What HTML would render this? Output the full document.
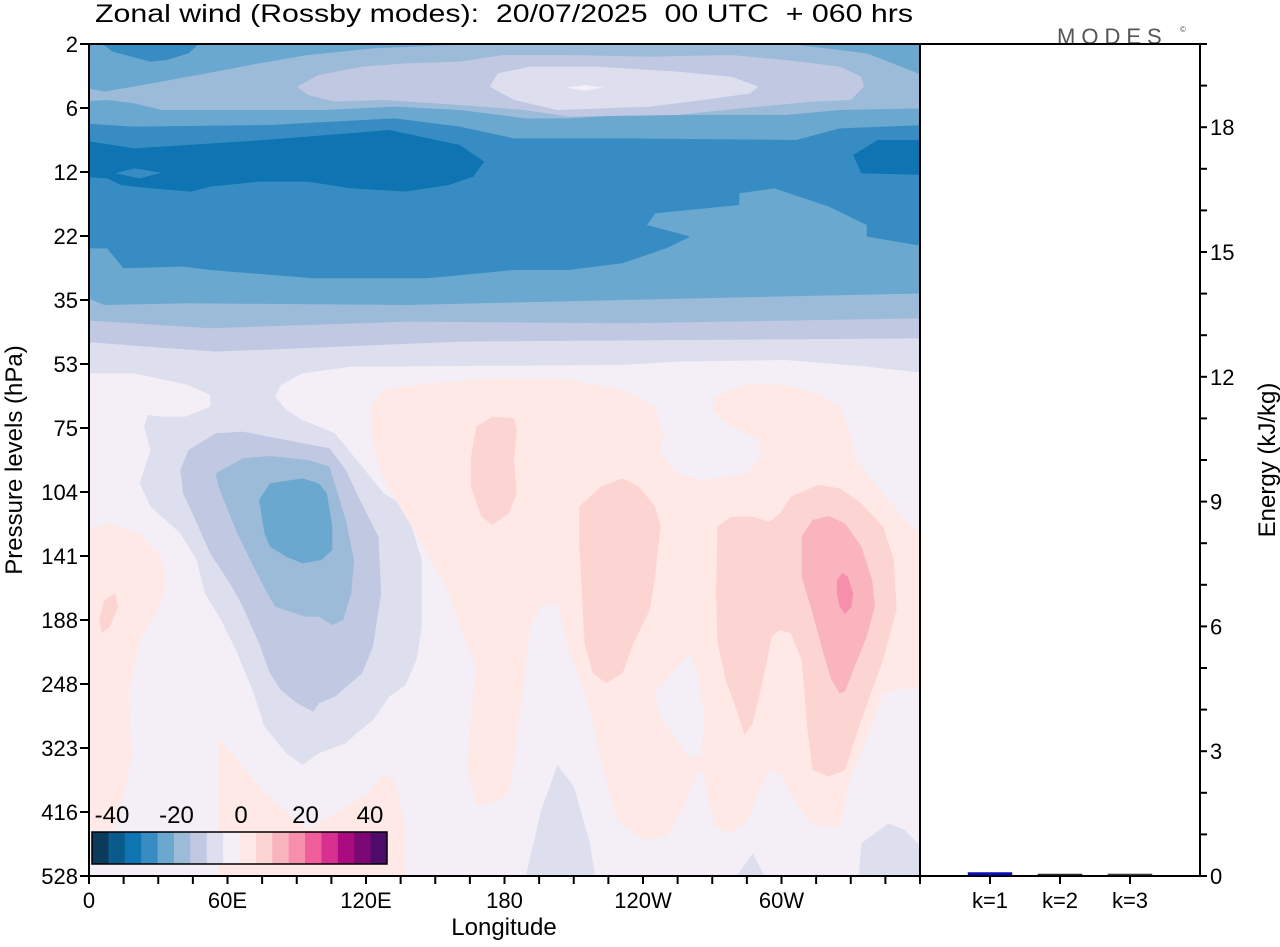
<!DOCTYPE html>
<html><head><meta charset="utf-8"><style>
body{margin:0;background:#fff;width:1280px;height:942px;overflow:hidden;font-family:"Liberation Sans",sans-serif}
svg text{font-family:"Liberation Sans",sans-serif}
</style></head><body>
<svg id="chart" width="1280" height="942" viewBox="0 0 1280 942" xmlns="http://www.w3.org/2000/svg">
<text x="95" y="22" font-size="25" style="white-space:pre" textLength="818" lengthAdjust="spacingAndGlyphs">Zonal wind (Rossby modes):  20/07/2025  00 UTC  + 060 hrs</text>
<text x="1057" y="44" font-size="22" fill="#555" letter-spacing="6">MODES</text>
<text x="1180" y="32" font-size="8" fill="#555">©</text>
<defs><clipPath id="pc"><rect x="89" y="44" width="831" height="832"/></clipPath></defs>
<g id="contours" clip-path="url(#pc)">
<rect x="89" y="44" width="831" height="832" fill="#f4eef6"/>
<g transform="translate(80,40) scale(0.5426,0.3333)">
<rect x="0" y="0" width="1560" height="1000" fill="#6aa8cf"/>
<polygon fill="#378dc3" points="40,10 60,35 130,65 160,60 200,40 220,10"/>
<polygon fill="#9bbbd9" points="0,140 45,155 150,125 250,95 330,70 420,45 540,25 760,10 1300,10 1450,40 1560,110 1560,205 1400,210 1300,225 1000,225 900,235 820,235 700,210 580,200 450,210 300,210 150,210 100,190 50,180 0,185"/>
<polygon fill="#c1c8e2" points="400,140 440,105 520,80 600,70 700,65 780,45 900,45 1050,50 1200,45 1300,60 1400,80 1440,110 1445,140 1420,180 1350,185 1250,200 1100,225 900,230 820,210 700,195 560,180 470,185 420,165"/>
<polygon fill="#dedfee" points="755,140 770,100 830,80 950,80 1100,95 1200,110 1250,140 1235,160 1150,180 1050,200 880,210 800,180"/>
<polygon fill="#f4eef6" points="895,143 930,135 965,143 930,152"/>
<polygon fill="#378dc3" points="0,250 100,260 350,255 580,235 700,260 800,295 1000,295 1320,300 1400,265 1560,255 1560,620 1450,590 1450,555 1380,500 1280,445 1215,460 1215,495 1060,520 1045,555 1125,590 1080,625 1000,670 900,690 800,690 640,715 430,715 240,690 190,680 80,685 50,625 0,625"/>
<polygon fill="#0f74b2" points="0,300 100,325 340,300 570,270 700,315 745,365 725,410 680,435 600,455 500,445 420,425 330,425 240,440 205,455 130,445 75,435 50,415 0,410"/>
<polygon fill="#378dc3" points="65,400 100,385 150,398 110,415"/>
<polygon fill="#0f74b2" points="1560,300 1470,300 1425,345 1440,400 1560,405"/>
<polygon fill="#9bbbd9" points="0,765 45,795 200,790 600,795 1000,780 1560,760 1560,1020 0,1020"/>
<polygon fill="#c1c8e2" points="0,840 50,845 240,865 600,845 1000,850 1560,835 1560,1020 0,1020"/>
<polygon fill="#dedfee" points="0,905 250,935 700,905 1560,895 1560,1020 0,1020"/>
</g>
<g transform="translate(80,360) scale(0.5426,0.3333)">
<rect x="0" y="0" width="1560" height="1560" fill="#f4eef6"/>
<polygon fill="#dedfee" points="0,-5 0,40 100,40 200,75 240,105 240,140 195,170 150,170 125,165 118,200 130,270 110,370 130,440 185,520 215,600 230,700 260,780 290,880 320,1000 340,1100 380,1180 410,1215 440,1180 490,1150 510,1120 540,1080 570,1010 600,975 620,900 630,800 630,600 600,440 560,400 520,320 470,220 410,180 380,150 360,110 370,75 410,40 500,20 1000,15 1100,5 1300,0 1450,20 1560,40 1560,-5"/>
<polygon fill="#dedfee" points="820,1560 850,1350 880,1215 910,1280 940,1450 950,1560"/>
<polygon fill="#dedfee" points="1435,1560 1440,1450 1490,1390 1520,1410 1560,1480 1560,1560"/>
<polygon fill="#dedfee" points="1205,1560 1240,1480 1265,1560"/>
<polygon fill="#c1c8e2" points="185,330 200,270 250,220 300,215 380,240 460,265 490,330 510,400 550,530 555,700 540,860 520,940 470,1010 440,1030 430,1055 400,1030 370,990 350,940 330,850 300,740 280,680 240,580 210,470 190,400"/>
<polygon fill="#9bbbd9" points="250,340 300,295 350,288 420,300 460,320 475,400 490,480 505,600 500,700 485,780 465,795 440,770 415,770 360,740 345,700 320,620 290,520 265,420 255,380"/>
<polygon fill="#6aa8cf" points="330,420 350,370 410,355 440,370 455,400 465,500 465,570 445,600 410,610 380,590 350,560 340,520"/>
<polygon fill="#fee9e6" points="535,140 560,90 640,70 760,55 900,60 1000,90 1060,140 1075,220 1070,280 1100,340 1150,360 1230,340 1255,290 1250,240 1200,200 1165,150 1170,110 1230,70 1300,75 1360,100 1400,140 1420,220 1430,300 1480,400 1530,500 1560,530 1560,990 1520,985 1480,1000 1460,1100 1420,1250 1400,1400 1350,1395 1320,1330 1290,1240 1270,1230 1250,1300 1230,1380 1200,1420 1170,1400 1150,1250 1140,1230 1110,1350 1080,1430 1040,1440 990,1380 960,1200 940,1050 920,950 900,870 880,730 850,735 830,800 800,1200 790,1300 760,1330 730,1335 715,1230 720,1080 730,920 700,800 680,700 640,580 600,470 560,360 540,260"/>
<polygon fill="#f4eef6" points="1060,1000 1100,920 1125,880 1140,950 1150,1060 1145,1190 1120,1190 1090,1120 1070,1070"/>
<polygon fill="#fee9e6" points="0,520 50,490 110,520 150,590 160,680 140,760 110,840 90,1000 95,1200 80,1300 60,1410 20,1410 0,1300"/>
<polygon fill="#fee9e6" points="255,1135 280,1180 340,1300 420,1410 530,1300 560,1240 580,1260 600,1400 600,1560 255,1560"/>
<polygon fill="#fcd5d3" points="35,780 45,720 65,700 70,740 55,800 40,820"/>
<polygon fill="#fcd5d3" points="730,200 760,170 800,175 805,210 800,300 805,400 790,460 760,495 740,470 720,380 720,300"/>
<polygon fill="#fcd5d3" points="920,440 960,380 1000,355 1030,380 1060,440 1070,500 1060,650 1050,750 1020,850 1000,940 970,970 945,940 930,850 925,700 920,550"/>
<polygon fill="#fcd5d3" points="1175,500 1200,470 1240,470 1270,485 1290,460 1310,410 1360,375 1400,385 1440,430 1480,500 1500,600 1505,750 1480,900 1440,1080 1410,1230 1380,1250 1350,1230 1340,1100 1330,900 1310,820 1290,810 1275,830 1260,950 1240,1090 1225,1125 1210,1050 1190,960 1175,850 1172,700"/>
<polygon fill="#f9b4bd" points="1330,530 1350,480 1380,468 1410,490 1440,560 1460,660 1465,740 1450,830 1430,910 1410,995 1400,1000 1385,960 1370,880 1350,760 1330,650"/>
<polygon fill="#f68fab" points="1395,660 1405,640 1415,650 1425,700 1422,740 1410,762 1400,740 1395,700"/>
</g>
</g>
<rect x="89" y="44" width="831" height="832" fill="none" stroke="#000" stroke-width="2"/>
<rect x="920" y="44" width="280" height="832" fill="none" stroke="#000" stroke-width="2"/>
<g id="leftAxis"></g>
<g id="bottomAxis"></g>
<g id="rightAxis"></g>
<g id="bars"></g>
<g id="colorbar"></g>
<text transform="translate(22,460) rotate(-90)" text-anchor="middle" font-size="24">Pressure levels (hPa)</text>
<text x="504" y="935" text-anchor="middle" font-size="24">Longitude</text>
<text transform="translate(1275,460) rotate(-90)" text-anchor="middle" font-size="24">Energy (kJ/kg)</text>
</svg>
<script>
const pressureLabels = ["2","6","12","22","35","53","75","104","141","188","248","323","416","528"];
const lonLabels = ["0","60E","120E","180","120W","60W"];
const energyTicks = [0,3,6,9,12,15,18];
const modeLabels = ["k=1","k=2","k=3"];
const modeEnergy = [0.06,0.02,0.01];
const barColors = ["#0000ff","#333","#555"];
const cbLabels = ["-40","-20","0","20","40"];
const cbColors = ["#0b3b5a","#0a5a8c","#0f74b2","#378dc3","#6aa8cf","#9bbbd9","#c1c8e2","#dedfee","#f4eef6","#fee9e6","#fcd5d3","#f9b4bd","#f68fab","#ef5d9a","#d7308f","#aa0c7f","#7d0777","#4e0c6a"];
(function(){
const NS="http://www.w3.org/2000/svg";
function mk(tag,attrs,parent,txt){const e=document.createElementNS(NS,tag);for(const k in attrs)e.setAttribute(k,attrs[k]);if(txt!==undefined)e.textContent=txt;parent.appendChild(e);return e;}
const pTop=44,pBot=876,pLeft=89,pRight=920,pr=1200;
const yP=i=>pTop+i*(pBot-pTop)/(pressureLabels.length-1);
const eMax=20;
const yE=v=>pBot-v/eMax*(pBot-pTop);
const L=document.getElementById('leftAxis');
pressureLabels.forEach((p,i)=>{
  const t=mk('line',{x1:80,x2:pLeft,y1:yP(i),y2:yP(i),stroke:'#000','stroke-width':2},L);
  
  
  const lb=mk('text',{x:78,y:yP(i)+8,'text-anchor':'end','font-size':22},L,p);
  
  
});
const B=document.getElementById('bottomAxis');
const xL=d=>pLeft+d/360*(pRight-pLeft);
for(let d=0;d<=360;d+=15){
  const t=mk('line',{x1:xL(d),x2:xL(d),y1:pBot,y2:pBot+8,stroke:'#000','stroke-width':2},B);
  
  
}
lonLabels.forEach((s,i)=>{
  const lb=mk('text',{x:xL(i*60),y:908,'text-anchor':'middle','font-size':22},B,s);
  
  
});
const R=document.getElementById('rightAxis');
for(let v=0;v<=eMax;v++){
  const t=mk('line',{x1:pr,x2:pr+7,y1:yE(v),y2:yE(v),stroke:'#000','stroke-width':2},R);
  
  
}
energyTicks.forEach(v=>{
  const lb=mk('text',{x:pr+10,y:yE(v)+8,'font-size':22},R,String(v));
  
  
});
const BR=document.getElementById('bars');
modeLabels.forEach((m,i)=>{
  const cx=990+i*70;
  const h=Math.max(1,pBot-yE(modeEnergy[i]));
  const r=mk('rect',{x:cx-22,y:pBot-h-1,width:44,height:h,fill:barColors[i],stroke:'#222','stroke-width':0.5},BR);
  
  
  const t=mk('line',{x1:cx,x2:cx,y1:pBot,y2:pBot+8,stroke:'#000','stroke-width':2},BR);
  
  
  const lb=mk('text',{x:cx,y:908,'text-anchor':'middle','font-size':22},BR,m);
  
  
});
const C=document.getElementById('colorbar');
const cbx=92,cbw=295,cby=832,cbh=32;
cbColors.forEach((c,i)=>{
  const r=mk('rect',{x:cbx+i*cbw/cbColors.length,y:cby,width:cbw/cbColors.length+0.5,height:cbh,fill:c},C);
  
  
});
const fr=mk('rect',{x:cbx,y:cby,width:cbw,height:cbh,fill:'none',stroke:'#000','stroke-width':1.5},C);


cbLabels.forEach((s,i)=>{
  const lb=mk('text',{x:112+i*64.5,y:823,'text-anchor':'middle','font-size':24},C,s);
  
  
});
})();
</script>
</body></html>
